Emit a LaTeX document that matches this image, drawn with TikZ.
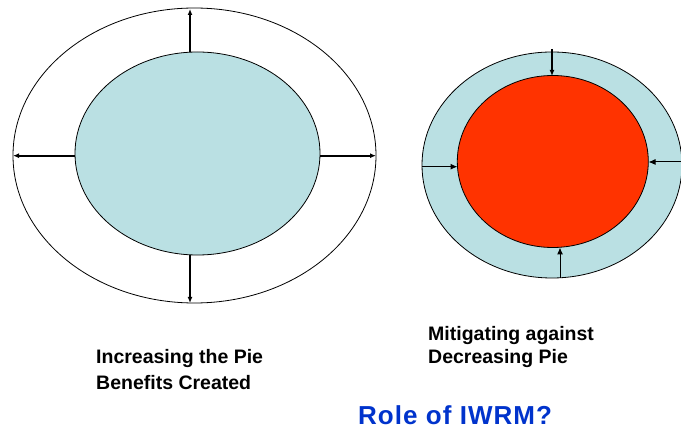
\documentclass[tikz,border=0pt]{standalone}
\usepackage{fontspec}
\setmainfont{Liberation Sans}
\newfontfamily\titlefont[LetterSpace=4]{Liberation Sans}
\usetikzlibrary{shapes.geometric,arrows.meta}
\definecolor{pieblue}{RGB}{186,224,227}
\definecolor{piered}{RGB}{255,51,0}
\definecolor{titleblue}{RGB}{0,51,204}
\begin{document}
\begin{tikzpicture}[x=1pt,y=-1pt,
  pie/.style={ellipse,draw=black,line width=0.8pt,inner sep=0pt},
  thickarrow/.style={line width=2.2pt,-{Latex[length=6pt,width=5pt]}},
  thinarrow/.style={line width=1pt,-{Latex[length=7pt,width=6pt]}},
  lbl/.style={anchor=base west,inner sep=0pt,font=\fontsize{19.5}{22}\selectfont\bfseries},
  title/.style={anchor=base west,inner sep=0pt,text=titleblue,font=\titlefont\fontsize{26}{30}\selectfont\bfseries}]
\useasboundingbox (0,0) rectangle (681,430);
% left pie
\node[pie,minimum width=363pt,minimum height=295pt] (outL) at (194.5,155.5) {};
\node[pie,fill=pieblue,minimum width=245pt,minimum height=203pt] (inL) at (197.5,153.5) {};
\coordinate (lt1) at (190,52);  \coordinate (lt2) at (190,9);
\coordinate (ll1) at (75,155.7); \coordinate (ll2) at (13,155.7);
\coordinate (lr1) at (320,155.7); \coordinate (lr2) at (376,155.7);
\coordinate (lb1) at (190,255); \coordinate (lb2) at (190,303);
\draw[thickarrow] (lt1) -- (lt2);
\draw[thickarrow] (ll1) -- (ll2);
\draw[thickarrow] (lr1) -- (lr2);
\draw[thickarrow] (lb1) -- (lb2);
% right pie
\node[pie,fill=pieblue,minimum width=260pt,minimum height=226pt] (outR) at (552,165) {};
\node[pie,fill=piered,minimum width=191pt,minimum height=172pt] (inR) at (552.8,161.5) {};
\coordinate (rt1) at (552,49);  \coordinate (rt2) at (552,76);
\coordinate (rl1) at (422,166.7); \coordinate (rl2) at (457.5,166.7);
\coordinate (rr1) at (681,162); \coordinate (rr2) at (648.5,162);
\coordinate (rb1) at (560,278); \coordinate (rb2) at (560,247.5);
\draw[thickarrow] (rt1) -- (rt2);
\draw[thinarrow] (rl1) -- (rl2);
\draw[thinarrow] (rr1) -- (rr2);
\draw[thinarrow] (rb1) -- (rb2);
% labels
\node[lbl] (t1) at (96,363.7) {Increasing the Pie};
\node[lbl] (t2) at (96,390) {Benefits Created};
\node[lbl] (t3) at (428,341) {Mitigating against};
\node[lbl] (t4) at (428,363.7) {Decreasing Pie};
\node[title] (t5) at (358,425) {Role of IWRM?};
\end{tikzpicture}
\end{document}
